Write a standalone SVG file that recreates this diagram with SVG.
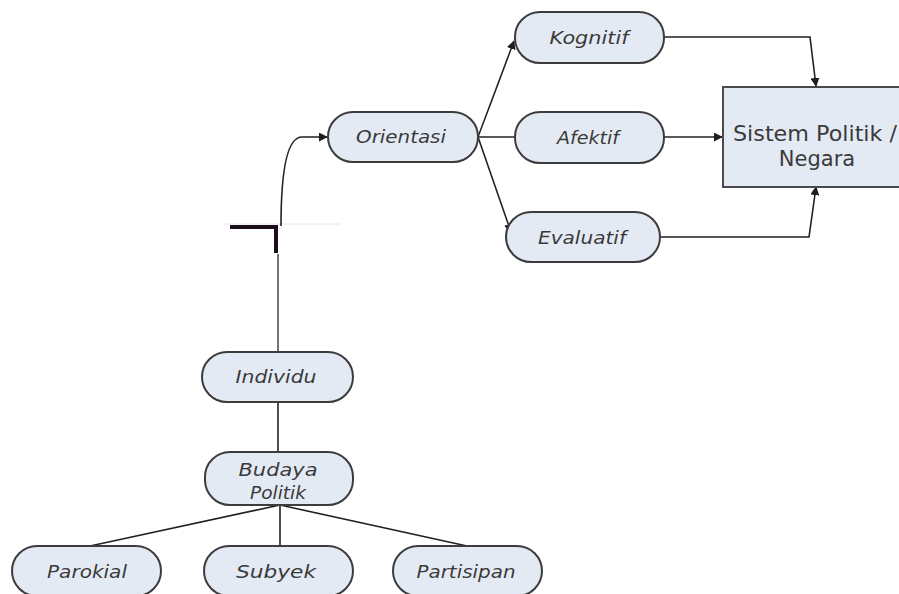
<svg xmlns="http://www.w3.org/2000/svg" width="899" height="594" viewBox="0 0 899 594">
  <style>
    .node { fill: #e4eaf4; stroke: #3c3c3c; stroke-width: 2; }
    .lbl { font-family: "DejaVu Sans", "Liberation Sans", sans-serif; font-style: italic; font-size: 18px; fill: #3a3a3a; text-anchor: middle; }
    .big { font-family: "DejaVu Sans", "Liberation Sans", sans-serif; font-size: 21px; fill: #3a3a3a; text-anchor: middle; }
    .wire { fill: none; stroke: #222; stroke-width: 1.6; }
    .wire-a { fill: none; stroke: #222; stroke-width: 1.6; marker-end: url(#tip); }
  </style>
  <defs>
    <marker id="tip" viewBox="0 0 10 10" refX="9" refY="5" markerWidth="9" markerHeight="9" markerUnits="userSpaceOnUse" orient="auto">
      <path d="M0,0 L10,5 L0,10 z" fill="#1e1e1e"/>
    </marker>
  </defs>
  <rect width="899" height="594" fill="#ffffff"/>

  <g id="connectors">
    <!-- stray bracket mark left of the stem -->
    <path d="M230,227 L276,227 L276,253" fill="none" stroke="#1c0f1c" stroke-width="4"/>
    <line x1="222" y1="224" x2="340" y2="224" stroke="#e6e6e6" stroke-width="1"/>
    <!-- stem: Individu up to Orientasi -->
    <line x1="278" y1="254" x2="278" y2="352" stroke="#3a3a3a" stroke-width="1.4"/>
    <path class="wire-a" d="M281,226 C281,175 286,137 302,137 L327,137"/>
    <!-- Orientasi fan-out -->
    <path class="wire-a" d="M478,137 L514,41"/>
    <path class="wire" d="M478,137 L515,137"/>
    <path class="wire-a" d="M478,137 L511,232"/>
    <!-- into the system box -->
    <path class="wire-a" d="M664,37 L810,37 L816,86"/>
    <path class="wire-a" d="M664,137 L722,137"/>
    <path class="wire-a" d="M660,237 L809,237 L816,187"/>
    <!-- Individu to Budaya Politik -->
    <line class="wire" x1="278" y1="402" x2="278" y2="452"/>
    <!-- Budaya Politik branches -->
    <path class="wire" d="M280,505 L90,546"/>
    <path class="wire" d="M280,505 L280,546"/>
    <path class="wire" d="M280,505 L467,546"/>
  </g>

  <g id="orientasi">
    <rect class="node" x="328" y="112" width="150" height="50" rx="25"/>
    <text class="lbl" x="401" y="143" textLength="90" lengthAdjust="spacingAndGlyphs">Orientasi</text>
  </g>
  <g id="kognitif">
    <rect class="node" x="515" y="12" width="149" height="51" rx="25"/>
    <text class="lbl" x="589" y="44" textLength="79" lengthAdjust="spacingAndGlyphs">Kognitif</text>
  </g>
  <g id="afektif">
    <rect class="node" x="515" y="112" width="149" height="51" rx="25"/>
    <text class="lbl" x="588" y="144" textLength="62" lengthAdjust="spacingAndGlyphs">Afektif</text>
  </g>
  <g id="evaluatif">
    <rect class="node" x="506" y="212" width="154" height="50" rx="25"/>
    <text class="lbl" x="582" y="244" textLength="88" lengthAdjust="spacingAndGlyphs">Evaluatif</text>
  </g>
  <g id="sistem-politik">
    <rect x="723" y="87" width="190" height="100" fill="#e4eaf4" stroke="#4a4a4a" stroke-width="2"/>
    <text class="big" x="815" y="141" textLength="164" lengthAdjust="spacingAndGlyphs">Sistem Politik /</text>
    <text class="big" x="817" y="166">Negara</text>
  </g>
  <g id="individu">
    <rect class="node" x="202" y="352" width="151" height="50" rx="25"/>
    <text class="lbl" x="276" y="383" textLength="81" lengthAdjust="spacingAndGlyphs">Individu</text>
  </g>
  <g id="budaya-politik">
    <rect class="node" x="205" y="452" width="148" height="53" rx="25"/>
    <text class="lbl" x="278" y="476" textLength="79" lengthAdjust="spacingAndGlyphs">Budaya</text>
    <text class="lbl" x="278" y="499" textLength="56" lengthAdjust="spacingAndGlyphs">Politik</text>
  </g>
  <g id="parokial">
    <rect class="node" x="12" y="546" width="149" height="50" rx="25"/>
    <text class="lbl" x="87" y="578" textLength="80" lengthAdjust="spacingAndGlyphs">Parokial</text>
  </g>
  <g id="subyek">
    <rect class="node" x="204" y="546" width="149" height="50" rx="25"/>
    <text class="lbl" x="276" y="578" textLength="80" lengthAdjust="spacingAndGlyphs">Subyek</text>
  </g>
  <g id="partisipan">
    <rect class="node" x="393" y="546" width="149" height="50" rx="25"/>
    <text class="lbl" x="466" y="578" textLength="99" lengthAdjust="spacingAndGlyphs">Partisipan</text>
  </g>
</svg>
